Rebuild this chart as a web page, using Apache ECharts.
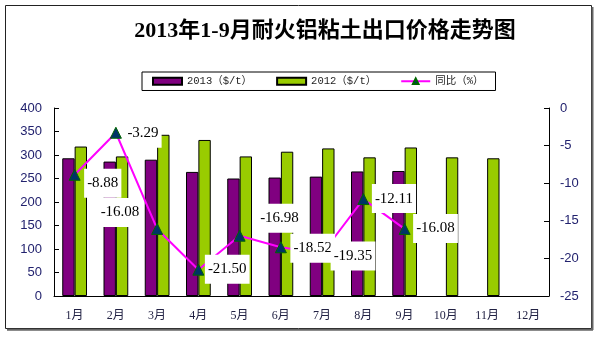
<!DOCTYPE html>
<html>
<head>
<meta charset="utf-8">
<script src="https://cdn.jsdelivr.net/npm/echarts@6/dist/echarts.min.js"></script>
<style>html,body{margin:0;padding:0;background:#fff;}#c{width:600px;height:337px;}</style>
</head>
<body>
<div id="c"></div>
<script>
var titleText = '2013年1-9月耐火铝粘土出口价格走势图';
var categories = ['1月','2月','3月','4月','5月','6月','7月','8月','9月','10月','11月','12月'];
var price2013 = [293, 286, 290, 264, 250, 252, 254, 265, 266, null, null, null];
var price2012 = [318, 297, 343, 332, 297, 307, 314, 295, 316, 295, 293, null];
var yoy = [-8.88, -3.29, -16.08, -21.50, -16.98, -18.52, -19.35, -12.11, -16.08, null, null, null];
var leftTicks = {min: 0, max: 400, interval: 50};
var rightTicks = {min: -25, max: 0, interval: 5};
var names = ['2013（$/t）', '2012（$/t）', '同比（%）'];

// label box offsets (box left / box centre relative to the point)
var labelOffsets = [[10,9],[9,1],[-59,-16],[7,0],[18,-17],[10,1.5],[9,3],[9,0],[9,0]];
var SYM = 11;

var lineData = yoy.map(function (v, i) {
  if (v === null) return null;
  var o = labelOffsets[i] || [9, 0];
  return {
    value: v,
    label: { position: [SYM/2 + o[0], SYM/2 + o[1]] }
  };
});

var axisFont = {fontFamily: "'Liberation Sans', Arial, sans-serif", fontSize: 13, color: '#22226e'};
var chart = echarts.init(document.getElementById('c'), null, {renderer: 'canvas'});
chart.setOption({
  animation: false,
  backgroundColor: '#fff',
  grid: {left: 54, right: 51, top: 108, bottom: 41, containLabel: false},
  legend: {
    left: 142, top: 72,
    padding: [4, 12, 4, 10],
    itemGap: 24,
    itemWidth: 29, itemHeight: 7,
    borderColor: '#000', borderWidth: 1,
    textStyle: {fontFamily: "'Liberation Mono','Noto Sans CJK SC'", fontSize: 10.5, color: '#222'},
    data: [
      {name: names[0], icon: 'rect'},
      {name: names[1], icon: 'rect'},
      {name: names[2]}
    ]
  },
  xAxis: {
    type: 'category', data: categories,
    boundaryGap: true,
    axisLine: {lineStyle: {color: '#000', width: 1}},
    axisTick: {inside: true, length: 5, lineStyle: {color: '#000'}},
    axisLabel: {margin: 14, fontFamily: "'Liberation Serif','Noto Sans CJK SC'", fontSize: 12, color: '#222244'},
    splitLine: {show: false}
  },
  yAxis: [
    {
      type: 'value', min: leftTicks.min, max: leftTicks.max, interval: leftTicks.interval,
      position: 'left',
      axisLine: {show: true, lineStyle: {color: '#000', width: 1}},
      axisTick: {show: true, inside: true, length: 5, lineStyle: {color: '#000'}},
      axisLabel: Object.assign({margin: 12}, axisFont),
      splitLine: {show: false}
    },
    {
      type: 'value', min: rightTicks.min, max: rightTicks.max, interval: rightTicks.interval,
      position: 'right',
      axisLine: {show: true, lineStyle: {color: '#000', width: 1}},
      axisTick: {show: true, inside: true, length: 5, lineStyle: {color: '#000'}},
      axisLabel: Object.assign({margin: 11}, axisFont),
      splitLine: {show: false}
    }
  ],
  series: [
    {
      name: names[0], type: 'bar', yAxisIndex: 0, data: price2013,
      barWidth: '30%', barGap: '0%',
      itemStyle: {color: '#800080', borderColor: '#000', borderWidth: 1}
    },
    {
      name: names[1], type: 'bar', yAxisIndex: 0, data: price2012,
      barWidth: '30%', barGap: '0%',
      itemStyle: {color: '#99CC00', borderColor: '#000', borderWidth: 1}
    },
    {
      name: names[2], type: 'line', yAxisIndex: 1, data: lineData,
      z: 5,
      symbol: 'triangle', symbolSize: SYM,
      lineStyle: {color: '#FF00FF', width: 2},
      itemStyle: {color: '#003366', borderColor: '#006600', borderWidth: 1},
      label: {
        show: true,
        align: 'left', verticalAlign: 'middle',
        formatter: function (p) { return p.value.toFixed(2); },
        fontFamily: "'Liberation Serif', 'Times New Roman', serif",
        fontSize: 15, color: '#000',
        backgroundColor: '#fff',
        padding: [7, 3, 7, 3]
      },
      emphasis: {disabled: true}
    }
  ],
  graphic: [
    {type: 'rect', z: -10, silent: true, shape: {x: 5.5, y: 5.5, width: 586, height: 323},
     style: {fill: 'none', stroke: '#222', lineWidth: 1}},
    {type: 'line', z: -10, silent: true, shape: {x1: 592.5, y1: 7, x2: 592.5, y2: 330}, style: {stroke: '#666', lineWidth: 2}},
    {type: 'line', z: -10, silent: true, shape: {x1: 7, y1: 329.8, x2: 593, y2: 329.8}, style: {stroke: '#666', lineWidth: 2}},
    {type: 'text', silent: true, style: {
      text: titleText, x: 325, y: 31, align: 'center', verticalAlign: 'middle',
      fontFamily: "'Liberation Serif','Noto Sans CJK SC'", fontWeight: 'bold', fontSize: 22, fill: '#000'
    }}
  ]
});
</script>
</body>
</html>
